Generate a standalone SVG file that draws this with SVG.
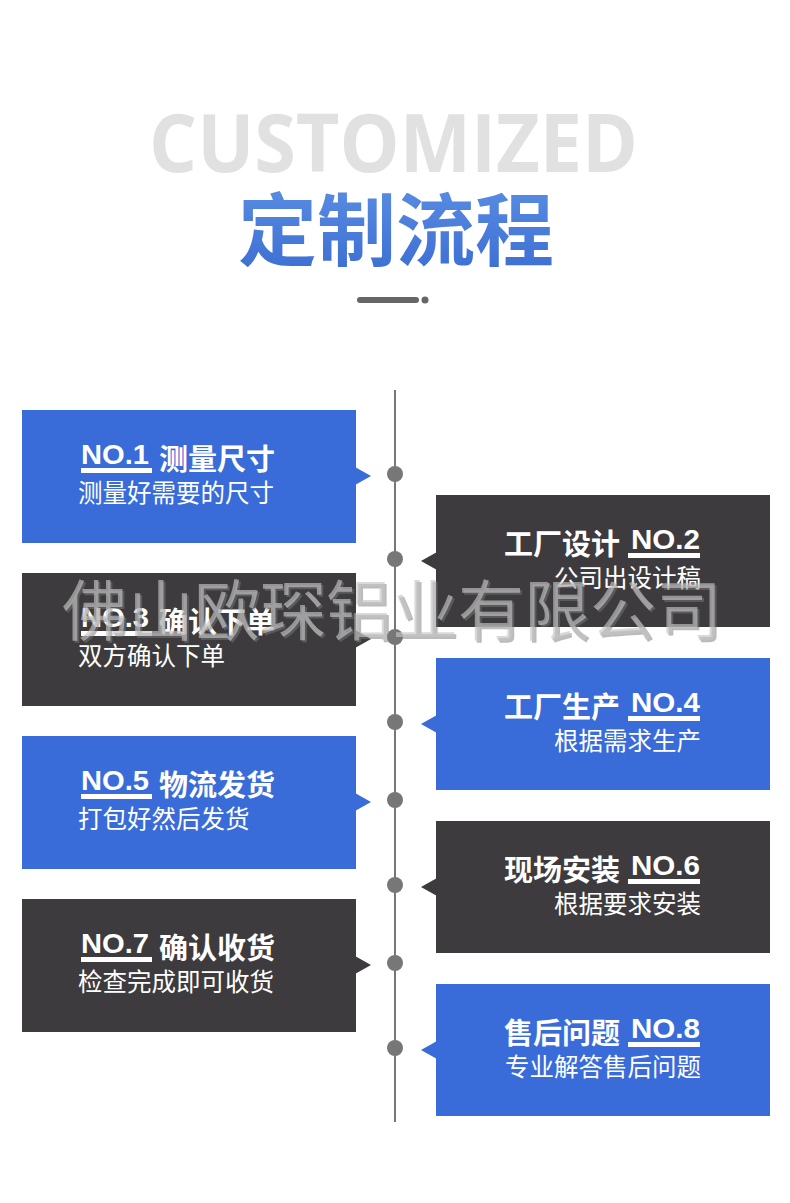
<svg xmlns="http://www.w3.org/2000/svg" width="790" height="1203" viewBox="0 0 790 1203">
<defs>
<linearGradient id="tg" x1="0" y1="0" x2="0" y2="1">
<stop offset="0" stop-color="#5e92e4"/>
<stop offset="1" stop-color="#3a6bd2"/>
</linearGradient>
<style>
.blue{fill:#396bd9}
.dark{fill:#3d3b3e}
.no{font-family:"Liberation Sans","Noto Sans",sans-serif;font-weight:bold;font-size:27px;fill:#fff}
.ttl{font-family:"Noto Sans CJK SC",sans-serif;font-weight:bold;font-size:29px;fill:#fff}
.sub{font-family:"Noto Sans CJK SC",sans-serif;font-size:24.5px;fill:#fff}
.ul{fill:#fff}
.dot{fill:#777}
.wm{font-family:"Noto Sans CJK SC",sans-serif;font-size:66px}
</style>
</defs>
<rect width="790" height="1203" fill="#fff"/>
<g id="header">
<text x="149" y="172" font-family="Open Sans,Liberation Sans,sans-serif" font-weight="bold" font-size="80" fill="#e1e1e1" textLength="489" lengthAdjust="spacingAndGlyphs">CUSTOMIZED</text>
<text x="396" y="260" text-anchor="middle" font-family="Noto Sans CJK SC,sans-serif" font-weight="bold" font-size="79" fill="url(#tg)">定制流程</text>
<rect x="357" y="297" width="62" height="6" rx="3" fill="#666"/>
<circle cx="425" cy="300" r="3.5" fill="#666"/>
</g>
<g id="connectors">
<line x1="395" y1="390" x2="395" y2="1122" stroke="#777" stroke-width="2"/>
<circle class="dot" cx="395" cy="474" r="8"/>
<circle class="dot" cx="395" cy="559" r="8"/>
<circle class="dot" cx="395" cy="637" r="8"/>
<circle class="dot" cx="395" cy="722" r="8"/>
<circle class="dot" cx="395" cy="800" r="8"/>
<circle class="dot" cx="395" cy="885" r="8"/>
<circle class="dot" cx="395" cy="963" r="8"/>
<circle class="dot" cx="395" cy="1048" r="8"/>
</g>
<g id="step1">
<rect class="blue" x="22" y="410" width="334" height="133"/>
<polygon class="blue" points="355,467 371,476 355,485"/>
<text class="no" x="81" y="464" textLength="68" lengthAdjust="spacingAndGlyphs">NO.1</text>
<rect class="ul" x="81" y="468" width="71" height="5"/>
<text class="ttl" x="159" y="470">测量尺寸</text>
<text class="sub" x="78" y="502">测量好需要的尺寸</text>
</g>
<g id="step2">
<rect class="dark" x="436" y="495" width="334" height="132"/>
<polygon class="dark" points="437,552 421,561 437,570"/>
<text class="no" x="631" y="549" textLength="69" lengthAdjust="spacingAndGlyphs">NO.2</text>
<rect class="ul" x="628" y="553" width="72" height="5"/>
<text class="ttl" x="620" y="555" text-anchor="end">工厂设计</text>
<text class="sub" x="701" y="587" text-anchor="end">公司出设计稿</text>
</g>
<g id="step3">
<rect class="dark" x="22" y="573" width="334" height="133"/>
<polygon class="dark" points="355,630 371,639 355,648"/>
<text class="no" x="81" y="627" textLength="68" lengthAdjust="spacingAndGlyphs">NO.3</text>
<rect class="ul" x="81" y="631" width="71" height="5"/>
<text class="ttl" x="159" y="633">确认下单</text>
<text class="sub" x="78" y="665">双方确认下单</text>
</g>
<g id="step4">
<rect class="blue" x="436" y="658" width="334" height="132"/>
<polygon class="blue" points="437,715 421,724 437,733"/>
<text class="no" x="631" y="712" textLength="69" lengthAdjust="spacingAndGlyphs">NO.4</text>
<rect class="ul" x="628" y="716" width="72" height="5"/>
<text class="ttl" x="620" y="718" text-anchor="end">工厂生产</text>
<text class="sub" x="701" y="750" text-anchor="end">根据需求生产</text>
</g>
<g id="step5">
<rect class="blue" x="22" y="736" width="334" height="133"/>
<polygon class="blue" points="355,793 371,802 355,811"/>
<text class="no" x="81" y="790" textLength="68" lengthAdjust="spacingAndGlyphs">NO.5</text>
<rect class="ul" x="81" y="794" width="71" height="5"/>
<text class="ttl" x="159" y="796">物流发货</text>
<text class="sub" x="78" y="828">打包好然后发货</text>
</g>
<g id="step6">
<rect class="dark" x="436" y="821" width="334" height="132"/>
<polygon class="dark" points="437,878 421,887 437,896"/>
<text class="no" x="631" y="875" textLength="69" lengthAdjust="spacingAndGlyphs">NO.6</text>
<rect class="ul" x="628" y="879" width="72" height="5"/>
<text class="ttl" x="620" y="881" text-anchor="end">现场安装</text>
<text class="sub" x="701" y="913" text-anchor="end">根据要求安装</text>
</g>
<g id="step7">
<rect class="dark" x="22" y="899" width="334" height="133"/>
<polygon class="dark" points="355,956 371,965 355,974"/>
<text class="no" x="81" y="953" textLength="68" lengthAdjust="spacingAndGlyphs">NO.7</text>
<rect class="ul" x="81" y="957" width="71" height="5"/>
<text class="ttl" x="159" y="959">确认收货</text>
<text class="sub" x="78" y="991">检查完成即可收货</text>
</g>
<g id="step8">
<rect class="blue" x="436" y="984" width="334" height="132"/>
<polygon class="blue" points="437,1041 421,1050 437,1059"/>
<text class="no" x="631" y="1038" textLength="69" lengthAdjust="spacingAndGlyphs">NO.8</text>
<rect class="ul" x="628" y="1042" width="72" height="5"/>
<text class="ttl" x="620" y="1044" text-anchor="end">售后问题</text>
<text class="sub" x="701" y="1076" text-anchor="end">专业解答售后问题</text>
</g>
<g id="watermark">
<text class="wm" x="64" y="637" fill="#777" fill-opacity="0.5">佛山欧琛铝业有限公司</text>
<text class="wm" x="62" y="635" fill="#c4c4c4" fill-opacity="0.65">佛山欧琛铝业有限公司</text>
</g>
</svg>
